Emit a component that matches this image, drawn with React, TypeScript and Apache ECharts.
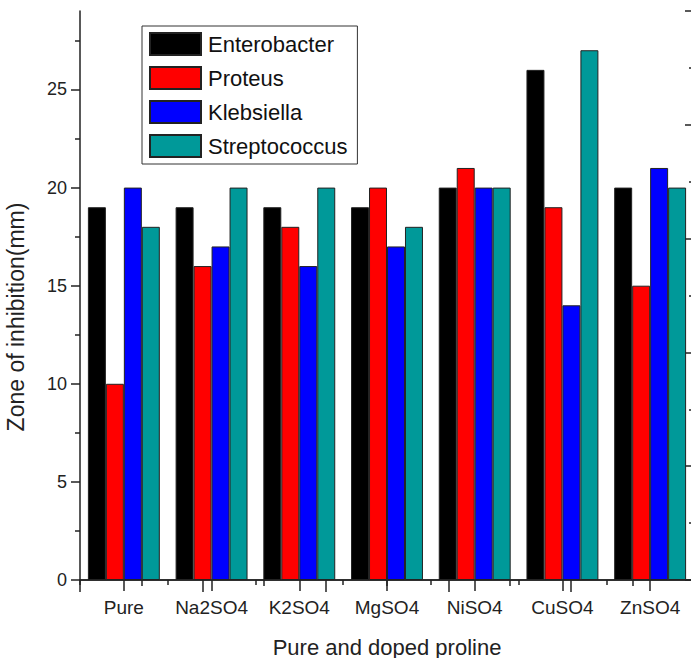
import React, { useEffect, useRef } from "react";
import * as echarts from "echarts";

const categories = ["Pure", "Na2SO4", "K2SO4", "MgSO4", "NiSO4", "CuSO4", "ZnSO4"];
const enterobacter = [19, 19, 19, 19, 20, 26, 20];
const proteus = [10, 16, 18, 20, 21, 19, 15];
const klebsiella = [20, 17, 16, 17, 20, 14, 21];
const streptococcus = [18, 20, 20, 18, 20, 27, 20];
const seriesNames = ["Enterobacter", "Proteus", "Klebsiella", "Streptococcus"];
const seriesColors = ["#000000", "#ff0000", "#0000ff", "#009999"];
const yMajorTicks = [0, 5, 10, 15, 20, 25];
const yMinorTicks = [2.5, 7.5, 12.5, 17.5, 22.5, 27.5];
const yMax = 29;

const FONT = "'Liberation Sans', Arial, Helvetica, sans-serif";
const AX = "#222";

export default function App() {
  const ref = useRef<HTMLDivElement>(null);
  useEffect(() => {
    if (!ref.current) return;
    const chart = echarts.init(ref.current, null, { renderer: "svg" });
    const values = [enterobacter, proteus, klebsiella, streptococcus];
    const series = seriesNames.map((name, i) => ({
      name,
      type: "bar" as const,
      xAxisIndex: 0,
      yAxisIndex: 0,
      data: values[i],
      barGap: "0%",
      barCategoryGap: "18%",
      itemStyle: { color: seriesColors[i], borderColor: "#222", borderWidth: 1 },
    }));
    chart.setOption({
      animation: false,
      backgroundColor: "#ffffff",
      textStyle: { fontFamily: FONT },
      grid: { left: 80, top: 11, bottom: 78, right: 6, containLabel: false },
      legend: {
        orient: "vertical",
        left: 142,
        top: 26,
        itemWidth: 51,
        itemHeight: 22,
        itemGap: 10,
        padding: [6, 10, 6, 7],
        borderColor: "#333",
        borderWidth: 1,
        icon: "rect",
        backgroundColor: "#fff",
        textStyle: { fontSize: 22, color: "#111", fontFamily: FONT, padding: [0, 0, 0, 2] },
        data: seriesNames,
      },
      xAxis: [
        {
          type: "category",
          data: categories,
          position: "bottom",
          axisLine: { show: true, lineStyle: { color: AX, width: 1.5 } },
          axisTick: { show: true, alignWithLabel: true, length: 11, lineStyle: { color: AX, width: 1.5 } },
          axisLabel: { fontSize: 19, color: "#222", margin: 18, fontFamily: FONT, interval: 0 },
          splitLine: { show: false },
        },
        {
          type: "category",
          data: categories,
          position: "bottom",
          axisLine: { show: false },
          axisTick: { show: true, interval: 0, length: 5, lineStyle: { color: AX, width: 1.5 } },
          axisLabel: { show: false },
          splitLine: { show: false },
        },
        {
          type: "value",
          position: "top",
          min: 0,
          max: 5,
          interval: 1,
          axisLine: { show: true, lineStyle: { color: AX, width: 1.5 } },
          axisTick: { show: true, inside: true, length: 12, lineStyle: { color: AX, width: 1.5 } },
          minorTick: { show: true, splitNumber: 2, length: 6, lineStyle: { color: AX, width: 1.5 } },
          axisLabel: { show: false },
          splitLine: { show: false },
          minorSplitLine: { show: false },
        },
      ],
      yAxis: [
        {
          type: "value",
          min: 0,
          max: yMax,
          interval: 5,
          position: "left",
          axisLine: { show: true, lineStyle: { color: AX, width: 1.5 } },
          axisTick: { show: true, length: 9, customValues: yMajorTicks, lineStyle: { color: AX, width: 1.5 } },
          axisLabel: { fontSize: 18, color: "#222", margin: 13, customValues: yMajorTicks, fontFamily: FONT },
          splitLine: { show: false },
        },
        {
          type: "value",
          min: 0,
          max: yMax,
          interval: 2.5,
          position: "left",
          axisLine: { show: false },
          axisTick: { show: true, length: 5, customValues: yMinorTicks, lineStyle: { color: AX, width: 1.5 } },
          axisLabel: { show: false },
          splitLine: { show: false },
        },
        {
          type: "value",
          position: "right",
          min: 0,
          max: 5,
          interval: 1,
          axisLine: { show: true, lineStyle: { color: AX, width: 1.5 } },
          axisTick: { show: true, inside: true, length: 9, lineStyle: { color: AX, width: 1.5 } },
          minorTick: { show: true, splitNumber: 2, length: 5, lineStyle: { color: AX, width: 1.5 } },
          axisLabel: { show: false },
          splitLine: { show: false },
          minorSplitLine: { show: false },
        },
      ],
      graphic: [
        {
          type: "text",
          x: 16,
          y: 317,
          rotation: Math.PI / 2,
          style: {
            text: "Zone of inhibition(mm)",
            fontSize: 23,
            fontFamily: FONT,
            fill: "#222",
            textAlign: "center",
            textVerticalAlign: "middle",
          },
        },
        {
          type: "text",
          x: 387,
          y: 647,
          style: {
            text: "Pure and doped proline",
            fontSize: 22,
            fontFamily: FONT,
            fill: "#222",
            textAlign: "center",
            textVerticalAlign: "middle",
          },
        },
      ],
      series,
    });
    return () => chart.dispose();
  }, []);
  return (
    <div
      style={{ position: "fixed", left: 0, top: 0, width: 691, height: 658, overflow: "hidden", background: "#fff" }}
    >
      <div ref={ref} style={{ width: 700, height: 658 }} />
    </div>
  );
}
